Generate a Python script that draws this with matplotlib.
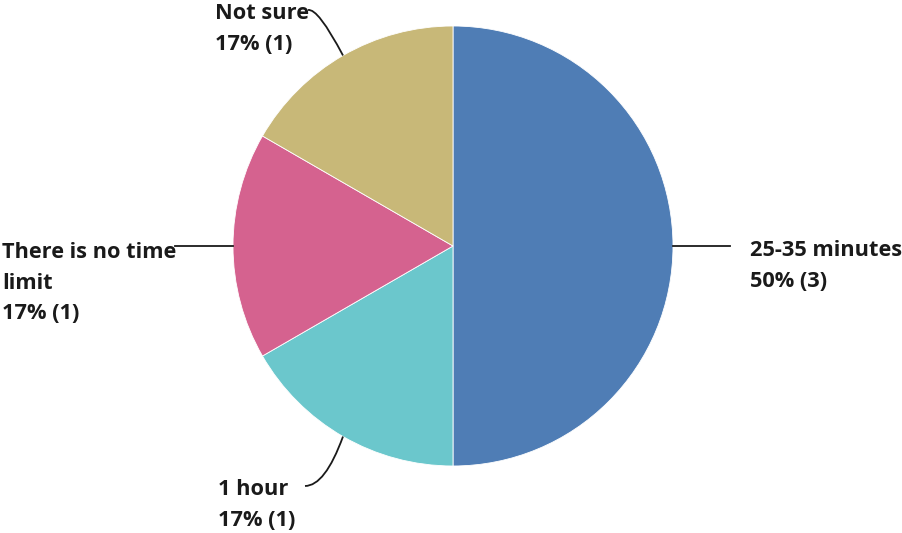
import numpy as np
import matplotlib.pyplot as plt
from matplotlib.path import Path
from matplotlib.patches import PathPatch

labels = ["25-35 minutes", "1 hour", "There is no time\nlimit", "Not sure"]
counts = [3, 1, 1, 1]
colors = ["#4f7db5", "#6bc7cc", "#d5628f", "#c8b878"]

W, H = 903, 533
fig = plt.figure(figsize=(W / 100, H / 100), dpi=100)
ax = fig.add_axes([0, 0, 1, 1])

cx, cy, r = 453, H - 246, 220
wedges, _ = ax.pie(counts, colors=colors, startangle=90, counterclock=False,
                   center=(cx, cy), radius=r, frame=True,
                   wedgeprops=dict(edgecolor="white", linewidth=0.6))
ax.set_xlim(0, W)
ax.set_ylim(0, H)
ax.axis("off")

total = sum(counts)
font = dict(family=["Open Sans", "DejaVu Sans"], fontweight="bold", fontsize=15.7,
            color="#1a1a1a", linespacing=1.62)


def edge_point(w):
    a = np.deg2rad((w.theta1 + w.theta2) / 2)
    return cx + r * np.cos(a), cy + r * np.sin(a)


def curve(p0, p1, p2):
    path = Path([p0, p1, p2], [Path.MOVETO, Path.CURVE3, Path.CURVE3])
    ax.add_patch(PathPatch(path, fill=False, lw=1.3, color="#1a1a1a"))


for w, lab, n in zip(wedges, labels, counts):
    pct = f"{round(100 * n / total)}% ({n})"
    x0, y0 = edge_point(w)
    text = f"{lab}\n{pct}"
    if lab.startswith("25"):
        ax.plot([x0, x0 + 57], [y0, y0], color="#1a1a1a", lw=1.3)
        ax.text(750, H - 266, text, ha="left", va="center", **font)
    elif lab.startswith("There"):
        ax.plot([x0, x0 - 58], [y0, y0], color="#1a1a1a", lw=1.3)
        ax.text(2, H - 283, text, ha="left", va="center", **font)
    elif lab.startswith("Not"):
        curve((x0, y0), (318, H - 8), (308, H - 10))
        ax.text(215, H - 29, text, ha="left", va="center", **font)
    else:
        curve((x0, y0), (325, H - 486), (305, H - 486))
        ax.text(218, H - 505, text, ha="left", va="center", **font)

fig.savefig("out.png", dpi=100)
